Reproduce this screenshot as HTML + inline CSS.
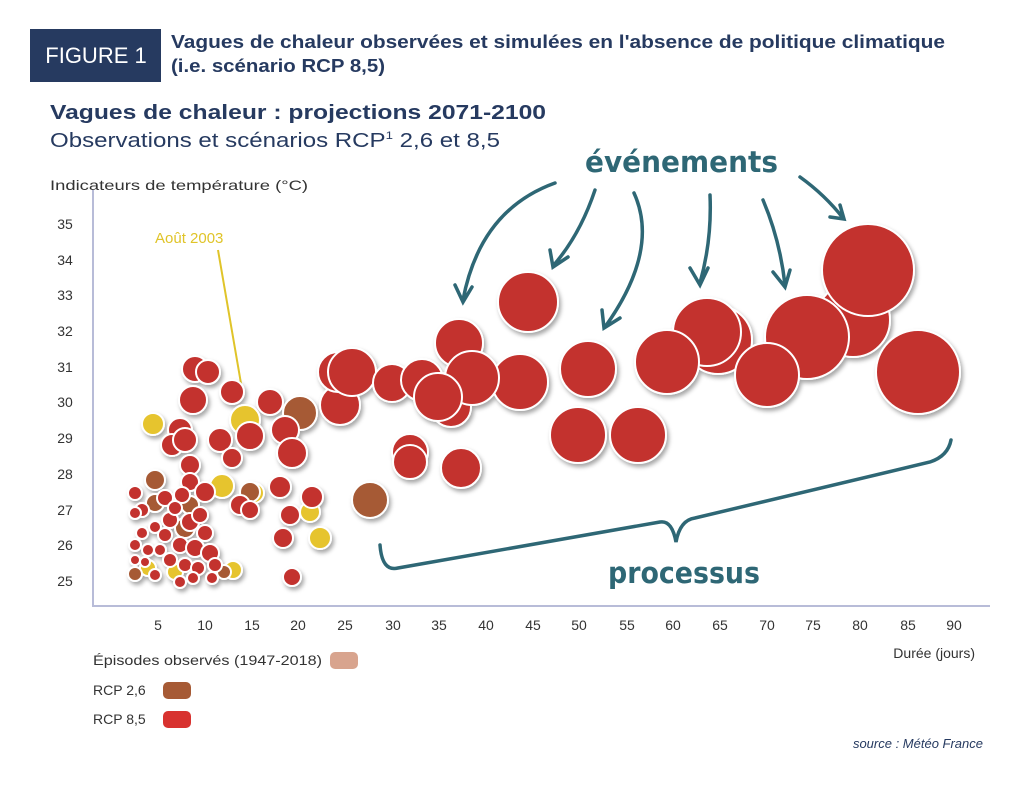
<!DOCTYPE html>
<html><head><meta charset="utf-8"><style>
body{margin:0;background:#fff;width:1024px;height:785px;overflow:hidden;font-family:"Liberation Sans",sans-serif}
</style></head><body>
<svg width="1024" height="785" viewBox="0 0 1024 785" xmlns="http://www.w3.org/2000/svg">
<defs>
<filter id="sh" x="-30%" y="-30%" width="160%" height="160%"><feDropShadow dx="2" dy="3" stdDeviation="2" flood-color="#000" flood-opacity="0.35"/></filter>
</defs>
<rect x="30" y="29" width="131" height="53" fill="#263a60"/>
<text x="96" y="63" font-size="22" fill="#fff" text-anchor="middle">FIGURE 1</text>
<text x="171" y="48" font-size="18" font-weight="bold" fill="#263a60" textLength="774" lengthAdjust="spacingAndGlyphs">Vagues de chaleur observées et simulées en l'absence de politique climatique</text>
<text x="171" y="72" font-size="18" font-weight="bold" fill="#263a60" textLength="214" lengthAdjust="spacingAndGlyphs">(i.e. scénario RCP 8,5)</text>
<text x="50" y="119" font-size="20" font-weight="bold" fill="#263a60" textLength="496" lengthAdjust="spacingAndGlyphs">Vagues de chaleur : projections 2071-2100</text>
<text x="50" y="147" font-size="20" fill="#263a60" textLength="450" lengthAdjust="spacingAndGlyphs">Observations et scénarios RCP<tspan font-size="11" dy="-8">1</tspan><tspan dy="8"> 2,6 et 8,5</tspan></text>
<text x="50" y="190" font-size="14" fill="#333" textLength="258" lengthAdjust="spacingAndGlyphs">Indicateurs de température (°C)</text>
<g font-size="14" fill="#333" text-anchor="middle">
<text x="65" y="229">35</text><text x="65" y="265">34</text><text x="65" y="300">33</text><text x="65" y="336">32</text><text x="65" y="372">31</text><text x="65" y="407">30</text><text x="65" y="443">29</text><text x="65" y="479">28</text><text x="65" y="515">27</text><text x="65" y="550">26</text><text x="65" y="586">25</text>
<text x="158" y="630">5</text><text x="205" y="630">10</text><text x="252" y="630">15</text><text x="298" y="630">20</text><text x="345" y="630">25</text><text x="393" y="630">30</text><text x="439" y="630">35</text><text x="486" y="630">40</text><text x="533" y="630">45</text><text x="579" y="630">50</text><text x="627" y="630">55</text><text x="673" y="630">60</text><text x="720" y="630">65</text><text x="767" y="630">70</text><text x="813" y="630">75</text><text x="860" y="630">80</text><text x="908" y="630">85</text><text x="954" y="630">90</text>
</g>
<text x="975" y="658" font-size="14" fill="#333" text-anchor="end">Durée (jours)</text>
<path d="M93 190V606H990" fill="none" stroke="#b8bcd8" stroke-width="2"/>
<text x="155" y="243" font-size="15" fill="#e0c429">Août 2003</text>
<line x1="218" y1="250" x2="243" y2="395" stroke="#e0c429" stroke-width="2"/>
<g filter="url(#sh)" stroke="#fff" stroke-width="2">
<g fill="#e6c42e">
<circle cx="153" cy="424" r="11"/><circle cx="245" cy="420" r="15"/><circle cx="222" cy="486" r="12"/><circle cx="233" cy="570" r="9"/><circle cx="320" cy="538" r="11"/><circle cx="310" cy="512" r="10"/><circle cx="254" cy="493" r="10"/><circle cx="148" cy="568" r="8"/><circle cx="175" cy="572" r="8"/>
</g>
<g fill="#a65a35">
<circle cx="300" cy="413" r="17"/><circle cx="370" cy="500" r="18"/><circle cx="155" cy="480" r="10"/><circle cx="155" cy="503" r="9"/><circle cx="250" cy="492" r="10"/><circle cx="185" cy="528" r="10"/><circle cx="224" cy="572" r="7"/><circle cx="135" cy="574" r="7"/><circle cx="190" cy="505" r="9"/>
</g>
<g fill="#c3312f">
<circle cx="195" cy="369" r="13"/><circle cx="208" cy="372" r="12"/><circle cx="193" cy="400" r="14"/><circle cx="232" cy="392" r="12"/><circle cx="270" cy="402" r="13"/><circle cx="285" cy="430" r="14"/><circle cx="292" cy="453" r="15"/><circle cx="250" cy="436" r="14"/><circle cx="220" cy="440" r="12"/><circle cx="232" cy="458" r="10"/><circle cx="180" cy="430" r="12"/><circle cx="172" cy="445" r="11"/><circle cx="185" cy="440" r="12"/><circle cx="190" cy="465" r="10"/><circle cx="240" cy="505" r="10"/><circle cx="250" cy="510" r="9"/><circle cx="190" cy="482" r="9"/><circle cx="205" cy="492" r="10"/><circle cx="280" cy="487" r="11"/><circle cx="312" cy="497" r="11"/><circle cx="290" cy="515" r="10"/><circle cx="283" cy="538" r="10"/><circle cx="292" cy="577" r="9"/>
<circle cx="135" cy="493" r="7"/><circle cx="142" cy="510" r="7"/><circle cx="135" cy="513" r="6"/><circle cx="165" cy="498" r="8"/><circle cx="182" cy="495" r="8"/><circle cx="170" cy="520" r="8"/><circle cx="190" cy="522" r="9"/><circle cx="200" cy="515" r="8"/><circle cx="205" cy="533" r="8"/><circle cx="180" cy="545" r="8"/><circle cx="195" cy="548" r="9"/><circle cx="210" cy="553" r="9"/><circle cx="155" cy="527" r="6"/><circle cx="142" cy="533" r="6"/><circle cx="135" cy="545" r="6"/><circle cx="148" cy="550" r="6"/><circle cx="160" cy="550" r="6"/><circle cx="170" cy="560" r="7"/><circle cx="185" cy="565" r="7"/><circle cx="135" cy="560" r="5"/><circle cx="145" cy="562" r="5"/><circle cx="198" cy="568" r="7"/><circle cx="215" cy="565" r="7"/><circle cx="155" cy="575" r="6"/><circle cx="180" cy="582" r="6"/><circle cx="193" cy="578" r="6"/><circle cx="212" cy="578" r="6"/><circle cx="165" cy="535" r="7"/><circle cx="175" cy="508" r="7"/>
<circle cx="340" cy="405" r="20"/><circle cx="338" cy="372" r="20"/><circle cx="352" cy="372" r="24"/><circle cx="392" cy="383" r="19"/><circle cx="410" cy="452" r="18"/><circle cx="410" cy="462" r="17"/><circle cx="461" cy="468" r="20"/>
<circle cx="422" cy="380" r="21"/><circle cx="459" cy="343" r="24"/><circle cx="440" cy="396" r="23"/><circle cx="451" cy="407" r="20"/><circle cx="520" cy="382" r="28"/><circle cx="472" cy="378" r="27"/><circle cx="438" cy="397" r="24"/><circle cx="528" cy="302" r="30"/>
<circle cx="588" cy="369" r="28"/><circle cx="578" cy="435" r="28"/><circle cx="638" cy="435" r="28"/><circle cx="718" cy="340" r="34"/><circle cx="707" cy="332" r="34"/><circle cx="667" cy="362" r="32"/><circle cx="853" cy="320" r="37"/><circle cx="807" cy="337" r="42"/><circle cx="767" cy="375" r="32"/><circle cx="868" cy="270" r="46"/><circle cx="918" cy="372" r="42"/>
</g>
</g>
<g fill="none" stroke="#2e6775" stroke-width="3.5" stroke-linecap="round">
<path d="M555 183Q480 210 463 300M455 285L463 302L472 287"/>
<path d="M595 190Q580 235 553 266M550 250L553 267L568 257"/>
<path d="M634 193Q660 250 605 327M602 310L604 328L620 318"/>
<path d="M710 195Q712 240 700 283M690 268L700 285L708 268"/>
<path d="M763 200Q780 240 785 285M773 272L785 287L790 270"/>
<path d="M800 177Q825 195 843 218M830 217L844 219L840 205"/>
<path d="M380 545Q382 572 398 568L660 522Q672 520 676 542Q680 520 695 518L930 462Q948 456 951 440"/>
</g>
<text x="585" y="172" font-size="29" font-weight="bold" fill="#2e6775" font-family="DejaVu Sans, sans-serif" textLength="193" lengthAdjust="spacingAndGlyphs">événements</text>
<text x="608" y="583" font-size="29" font-weight="bold" fill="#2e6775" font-family="DejaVu Sans, sans-serif" textLength="152" lengthAdjust="spacingAndGlyphs">processus</text>
<g font-size="14" fill="#333">
<text x="93" y="665" textLength="229" lengthAdjust="spacingAndGlyphs">Épisodes observés (1947-2018)</text>
<text x="93" y="695">RCP 2,6</text>
<text x="93" y="724">RCP 8,5</text>
</g>
<rect x="330" y="652" width="28" height="17" rx="5" fill="#d8a48e"/>
<rect x="163" y="682" width="28" height="17" rx="5" fill="#a65a35"/>
<rect x="163" y="711" width="28" height="17" rx="5" fill="#d8322f"/>
<text x="983" y="748" font-size="13" font-style="italic" fill="#263a60" text-anchor="end">source : Météo France</text>
</svg>
</body></html>
